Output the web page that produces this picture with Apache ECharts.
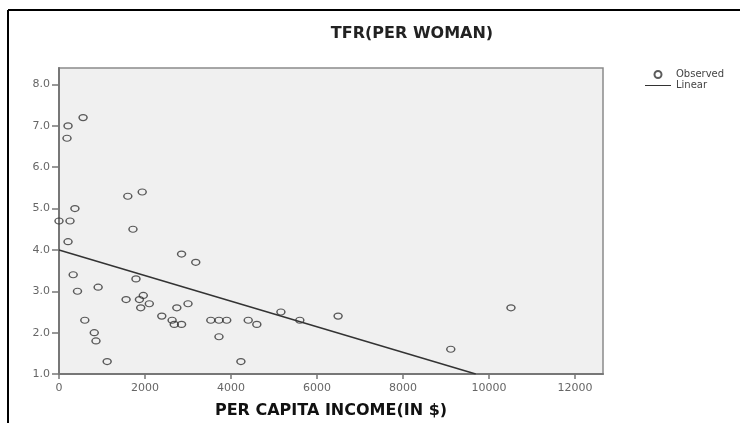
<!DOCTYPE html>
<html>
<head>
<meta charset="utf-8">
<script src="https://cdn.jsdelivr.net/npm/echarts@6/dist/echarts.min.js"></script>
<style>
  html, body { margin: 0; padding: 0; background: #fff; }
  #main { width: 740px; height: 423px; }
</style>
</head>
<body>
<div id="main"></div>
<script>
// observed points: per capita income ($) and TFR (per woman)
var income = [0, 256, 210, 186, 560, 370, 1600, 1935, 1720, 210, 330, 430, 910, 600, 820, 860, 1120,
              1790, 1560, 1870, 1960, 2100, 1900, 2850, 3180, 2390, 2740, 3000, 2630, 2680, 2850,
              3530, 3720, 3900, 3720, 4400, 4600, 5160, 5600, 6490, 4230, 9110, 10510];
var tfr = [4.7, 4.7, 7.0, 6.7, 7.2, 5.0, 5.3, 5.4, 4.5, 4.2, 3.4, 3.0, 3.1, 2.3, 2.0, 1.8, 1.3,
           3.3, 2.8, 2.8, 2.9, 2.7, 2.6, 3.9, 3.7, 2.4, 2.6, 2.7, 2.3, 2.2, 2.2,
           2.3, 2.3, 2.3, 1.9, 2.3, 2.2, 2.5, 2.3, 2.4, 1.3, 1.6, 2.6];

// linear fit end points
var fitX = [0, 9690];
var fitY = [4.0, 1.0];

var xTicks = [0, 2000, 4000, 6000, 8000, 10000, 12000];
var yTicks = [1, 2, 3, 4, 5, 6, 7, 8];

var observed = income.map(function (v, i) { return [v, tfr[i]]; });
var linear = fitX.map(function (v, i) { return [v, fitY[i]]; });

var myChart = echarts.init(document.getElementById('main'));

var option = {
    backgroundColor: '#fff',
    animation: false,
    title: {
        text: 'TFR(PER WOMAN)',
        left: 407,
        top: 21,
        textAlign: 'center',
        textStyle: { fontFamily: 'DejaVu Sans', fontSize: 16, fontWeight: 'bold', color: '#222' }
    },
    legend: {
        orient: 'vertical',
        left: 645,
        top: 69,
        padding: 0,
        itemWidth: 26,
        itemHeight: 7,
        itemGap: 0,
        textStyle: { fontFamily: 'DejaVu Sans', fontSize: 10, lineHeight: 11, color: '#444' },
        data: [
            { name: 'Observed', icon: 'emptyCircle', itemStyle: { color: '#333', borderWidth: 1.2 } },
            { name: 'Linear', icon: 'path://M0,0L26,0L26,1L0,1Z', itemStyle: { color: '#333', borderWidth: 0 } }
        ]
    },
    grid: {
        left: 59, top: 68, right: 137, bottom: 49,
        outerBoundsMode: 'none',
        containLabel: false,
        show: true,
        backgroundColor: '#f0f0f0',
        borderColor: '#8a8a8a',
        borderWidth: 1.5
    },
    xAxis: {
        type: 'value',
        min: 0,
        max: 12650,
        name: 'PER CAPITA INCOME(IN $)',
        nameLocation: 'middle',
        nameGap: 29,
        nameTextStyle: { fontFamily: 'DejaVu Sans', fontSize: 16, fontWeight: 'bold', color: '#111' },
        splitLine: { show: false },
        axisLine: { lineStyle: { color: '#777', width: 2 } },
        axisTick: { show: true, inside: false, length: 5, customValues: xTicks, lineStyle: { color: '#777', width: 1.5 } },
        axisLabel: {
            customValues: xTicks, fontFamily: 'DejaVu Sans', fontSize: 11, color: '#666', margin: 9,
            formatter: function (v) { return String(v); }
        }
    },
    yAxis: {
        type: 'value',
        min: 1,
        max: 8.4,
        splitLine: { show: false },
        axisLine: { show: true, lineStyle: { color: '#777', width: 2 } },
        axisTick: { show: true, inside: false, length: 7, customValues: yTicks, lineStyle: { color: '#777', width: 1.5 } },
        axisLabel: {
            customValues: yTicks,
            fontFamily: 'DejaVu Sans', fontSize: 11, color: '#666', margin: 9,
            formatter: function (v) { return v.toFixed(1); }
        }
    },
    series: [
        {
            name: 'Observed',
            type: 'scatter',
            symbol: 'circle',
            symbolSize: [8, 6],
            clip: false,
            itemStyle: { color: 'rgba(0,0,0,0)', borderColor: '#333', borderWidth: 1.3 },
            data: observed
        },
        {
            name: 'Linear',
            type: 'line',
            symbol: 'none',
            lineStyle: { color: '#333', width: 1.5 },
            itemStyle: { color: '#333' },
            data: linear
        }
    ],
    graphic: [
        { type: 'line', shape: { x1: 8, y1: 10, x2: 740, y2: 10 }, style: { stroke: '#000', lineWidth: 2 } },
        { type: 'line', shape: { x1: 8, y1: 10, x2: 8, y2: 423 }, style: { stroke: '#000', lineWidth: 2 } }
    ]
};

myChart.setOption(option);
</script>
</body>
</html>
